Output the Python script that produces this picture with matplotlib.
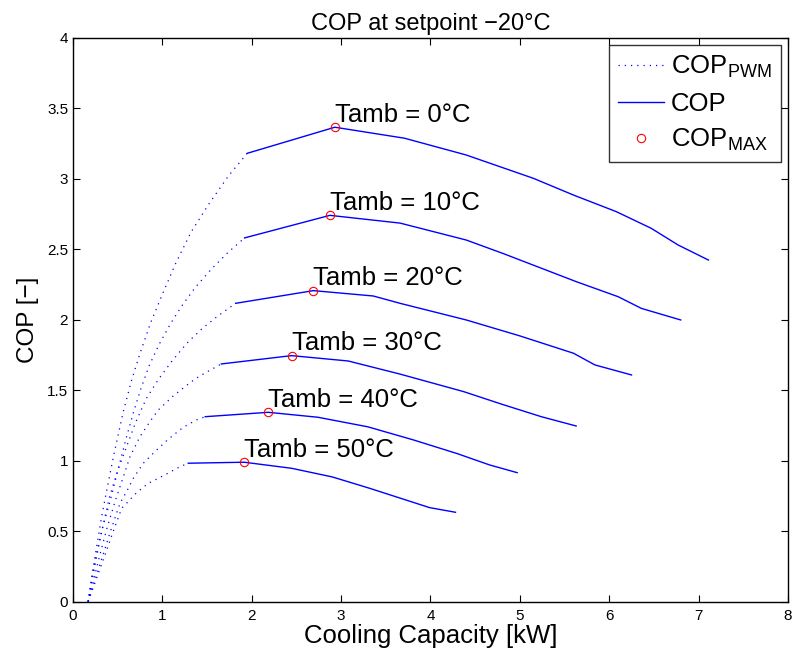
import matplotlib

matplotlib.use("Agg")
import matplotlib.pyplot as plt

plt.rcParams["font.family"] = ["Liberation Sans", "DejaVu Sans"]
plt.rcParams["mathtext.fontset"] = "custom"
plt.rcParams["mathtext.rm"] = "Liberation Sans"
plt.rcParams["mathtext.it"] = "Liberation Sans:italic"

# ambient temperatures (deg C)
tamb = [0, 10, 20, 30, 40, 50]

# COP curves (variable speed), cooling capacity in kW
cop_x = [
    [1.95, 2.93, 3.71, 4.40, 5.15, 5.60, 6.08, 6.47, 6.77, 7.11],
    [1.92, 2.875, 3.66, 4.40, 4.81, 5.63, 6.10, 6.36, 6.80],
    [1.82, 2.69, 3.36, 3.66, 4.40, 5.00, 5.60, 5.84, 6.25],
    [1.66, 2.446, 3.08, 3.66, 4.37, 4.80, 5.24, 5.63],
    [1.48, 2.185, 2.74, 3.30, 3.81, 4.30, 4.66, 4.97],
    [1.29, 1.916, 2.446, 2.90, 3.32, 3.99, 4.28],
]
cop_y = [
    [3.18, 3.365, 3.287, 3.168, 3.003, 2.884, 2.766, 2.648, 2.53, 2.423],
    [2.58, 2.74, 2.685, 2.565, 2.47, 2.27, 2.163, 2.08, 1.998],
    [2.116, 2.206, 2.168, 2.116, 1.998, 1.885, 1.762, 1.679, 1.608],
    [1.686, 1.745, 1.707, 1.614, 1.49, 1.40, 1.312, 1.246],
    [1.312, 1.343, 1.308, 1.24, 1.147, 1.05, 0.97, 0.915],
    [0.982, 0.989, 0.946, 0.885, 0.804, 0.667, 0.634],
]

# PWM (on/off) part below minimum speed
pwm_x = [
    [0.17, 0.21, 0.26, 0.32, 0.39, 0.46, 0.56, 0.66, 0.76, 0.87, 1.00, 1.15, 1.32, 1.52, 1.74, 1.95],
    [0.17, 0.21, 0.26, 0.32, 0.41, 0.47, 0.53, 0.60, 0.68, 0.76, 0.85, 0.96, 1.09, 1.22, 1.37, 1.55, 1.74, 1.92],
    [0.17, 0.22, 0.28, 0.35, 0.41, 0.50, 0.60, 0.70, 0.82, 0.96, 1.10, 1.27, 1.45, 1.63, 1.82],
    [0.17, 0.23, 0.30, 0.38, 0.47, 0.545, 0.638, 0.749, 0.861, 0.955, 1.122, 1.253, 1.376, 1.50, 1.66],
    [0.17, 0.24, 0.32, 0.42, 0.526, 0.60, 0.675, 0.787, 0.917, 1.066, 1.234, 1.383, 1.48],
    [0.17, 0.25, 0.34, 0.44, 0.545, 0.60, 0.712, 0.843, 0.917, 1.048, 1.197, 1.29],
]
pwm_y = [
    [0.0, 0.18, 0.37, 0.6, 0.83, 1.05, 1.34, 1.58, 1.78, 1.98, 2.18, 2.40, 2.62, 2.82, 3.02, 3.18],
    [0.0, 0.16, 0.33, 0.5, 0.7, 0.85, 1.0, 1.17, 1.35, 1.51, 1.67, 1.82, 1.97, 2.1, 2.23, 2.36, 2.48, 2.58],
    [0.0, 0.17, 0.37, 0.58, 0.745, 0.93, 1.10, 1.27, 1.44, 1.58, 1.70, 1.83, 1.94, 2.03, 2.116],
    [0.0, 0.15, 0.33, 0.52, 0.709, 0.851, 1.028, 1.17, 1.277, 1.36, 1.459, 1.525, 1.584, 1.63, 1.686],
    [0.0, 0.14, 0.3, 0.5, 0.698, 0.78, 0.875, 0.982, 1.064, 1.152, 1.237, 1.289, 1.312],
    [0.0, 0.14, 0.3, 0.48, 0.662, 0.698, 0.773, 0.84, 0.863, 0.906, 0.957, 0.982],
]

# maximum COP points
max_x = [2.93, 2.875, 2.69, 2.446, 2.185, 1.916]
max_y = [3.365, 2.74, 2.206, 1.745, 1.343, 0.989]

xticks = [0, 1, 2, 3, 4, 5, 6, 7, 8]
yticks = [0, 0.5, 1, 1.5, 2, 2.5, 3, 3.5, 4]
ytick_labels = ["0", "0.5", "1", "1.5", "2", "2.5", "3", "3.5", "4"]


def main():
    fig = plt.figure(figsize=(7.94, 6.59), dpi=100)
    ax = fig.add_axes([0.0919, 0.0870, 0.9005, 0.8558])

    for i in range(len(tamb)):
        ax.plot(pwm_x[i], pwm_y[i], color="blue", lw=0.9, ls=(0, (1, 4)),
                label=r"COP$_{\mathrm{PWM}}$" if i == 0 else None)
        ax.plot(cop_x[i], cop_y[i], color="blue", lw=1.0,
                label="COP" if i == 0 else None)
    ax.plot(max_x, max_y, "o", color="red", mfc="none", ms=6, mew=0.8,
            ls="none", label=r"COP$_{\mathrm{MAX}}$")

    for t, x, y in zip(tamb, max_x, max_y):
        ax.text(x, y + 0.04, f"Tamb = {t}°C", fontsize=18.5, ha="left", va="baseline")

    ax.set_xlim(0, 8)
    ax.set_ylim(0, 4)
    ax.set_xticks(xticks)
    ax.set_yticks(yticks)
    ax.set_yticklabels(ytick_labels)
    ax.tick_params(direction="in", top=True, right=True, labelsize=11, length=5)
    ax.tick_params(axis="x", pad=5)
    for s in ax.spines.values():
        s.set_linewidth(1.0)

    ax.set_xlabel("Cooling Capacity [kW]", fontsize=18.5, labelpad=1)
    ax.set_ylabel("COP [\u2212]", fontsize=17.5, labelpad=6)
    ax.set_title("COP at setpoint \u221220°C", fontsize=17, pad=5.5)

    leg = ax.legend(loc="upper right", fontsize=18.5, frameon=True, fancybox=False,
                    edgecolor="black", handlelength=1.8, borderaxespad=0.28,
                    labelspacing=0.45, handletextpad=0.27, borderpad=0.35)
    leg.get_frame().set_linewidth(1.0)

    fig.savefig("out.png", dpi=100)
    plt.close(fig)


if __name__ == "__main__":
    main()
